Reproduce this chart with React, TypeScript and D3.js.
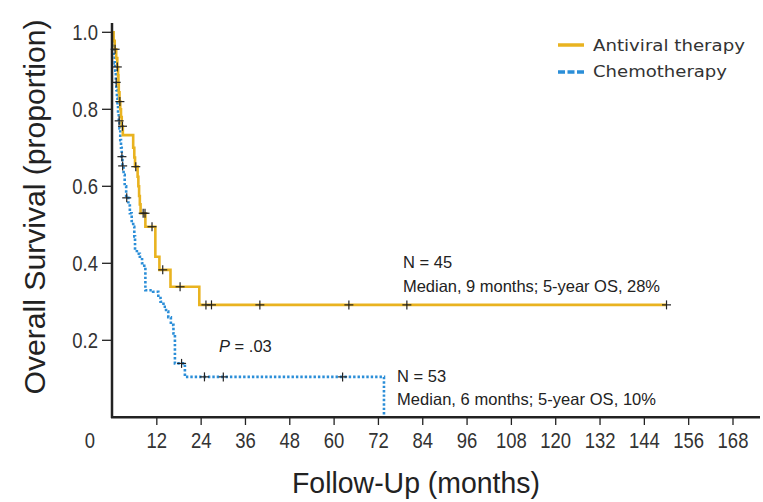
import React from "react";
import * as d3 from "d3";

// Kaplan-Meier steps: [month, survival after drop]
const antiviralSteps: [number, number][] = [
  [0, 1.0], [0.3, 0.978], [0.6, 0.956], [1.0, 0.933], [1.3, 0.91], [1.5, 0.888],
  [1.6, 0.866], [1.7, 0.844], [1.9, 0.82], [2.1, 0.8], [2.3, 0.78], [2.5, 0.756],
  [2.8, 0.733], [5.6, 0.7], [5.9, 0.675], [6.1, 0.651], [6.8, 0.625], [7.0, 0.6],
  [7.2, 0.575], [7.4, 0.553], [7.6, 0.53], [8.9, 0.495], [11.6, 0.417],
  [12.7, 0.383], [15.7, 0.339], [23.5, 0.292], [150, 0.292],
];
const antiviralCensored = [0.7, 1.3, 2.0, 2.7, 6.3, 8.3, 8.8, 10.7, 13.6, 18.3, 25.3, 26.8, 39.9, 64, 79.7, 150];

const chemoSteps: [number, number][] = [
  [0, 1.0], [0.15, 0.98], [0.3, 0.96], [0.45, 0.94], [0.6, 0.92], [0.75, 0.9],
  [0.9, 0.87], [1.05, 0.85], [1.2, 0.83], [1.35, 0.81], [1.5, 0.79], [1.7, 0.77],
  [1.9, 0.75], [2.1, 0.72], [2.3, 0.7], [2.5, 0.677], [2.7, 0.653], [3.0, 0.63],
  [3.3, 0.6], [3.7, 0.57], [4.3, 0.55], [4.7, 0.53], [5.2, 0.51], [5.6, 0.495],
  [5.9, 0.47], [6.1, 0.435], [6.6, 0.425], [7.4, 0.417], [8.0, 0.4], [8.6, 0.39],
  [8.9, 0.33], [11.0, 0.326], [12.4, 0.31], [13.0, 0.3], [13.8, 0.287],
  [14.5, 0.275], [15.1, 0.26], [15.8, 0.24], [16.5, 0.218], [16.9, 0.14],
  [19.6, 0.105], [73.5, 0],
];
const chemoCensored = [1.0, 1.8, 2.55, 2.75, 3.85, 18.7, 24.9, 30.0, 62.3];

const xTicks = [12, 24, 36, 48, 60, 72, 84, 96, 108, 120, 132, 144, 156, 168];
const yTicks = [0.2, 0.4, 0.6, 0.8, 1.0];

const YELLOW = "#e9b320";
const BLUE = "#2b8ed8";
const INK = "#222";
const SANS = "'Liberation Sans', Arial, sans-serif";

const survAt = (steps: [number, number][], t: number) => {
  let s = steps[0][1];
  for (const [m, v] of steps) {
    if (m <= t) s = v;
  }
  return s;
};

// no narrow font installed, so squeeze horizontally
const Narrow = ({ x, y, anchor, size, children }: any) => (
  <text
    transform={`translate(${x},${y}) scale(0.84,1)`}
    textAnchor={anchor}
    fontFamily={SANS}
    fontSize={size}
    fill="#333"
  >
    {children}
  </text>
);

const App = () => {
  const x = d3.scaleLinear().domain([0, 168]).range([112.5, 733]);
  const y = d3.scaleLinear().domain([0, 1]).range([417.3, 32.3]);

  const line = d3
    .line<[number, number]>()
    .x((d) => x(d[0]))
    .y((d) => y(d[1]))
    .curve(d3.curveStepAfter);

  const cross = (cx: number, cy: number, key: string) => (
    <g key={key} stroke={INK} strokeWidth={1.2}>
      <line x1={cx - 4.5} x2={cx + 4.5} y1={cy} y2={cy} />
      <line x1={cx} x2={cx} y1={cy - 4.5} y2={cy + 4.5} />
    </g>
  );

  return (
    <svg width={763} height={502} style={{ position: "absolute", left: 0, top: 0, background: "#fff" }}>
      {/* curves */}
      <path d={line(chemoSteps) || ""} fill="none" stroke={BLUE} strokeWidth={2.6} strokeDasharray="2.4,2" />
      <path d={line(antiviralSteps) || ""} fill="none" stroke={YELLOW} strokeWidth={2.6} />

      {chemoCensored.map((t, i) => cross(x(t), y(survAt(chemoSteps, t)), "c" + i))}
      {antiviralCensored.map((t, i) => cross(x(t), y(survAt(antiviralSteps, t)), "a" + i))}

      {/* axes */}
      <line x1={112} x2={112} y1={23} y2={418} stroke={INK} strokeWidth={2.5} />
      <line x1={111} x2={760} y1={417.3} y2={417.3} stroke={INK} strokeWidth={2.5} />
      {yTicks.map((t) => (
        <g key={"y" + t}>
          <line x1={102} x2={112} y1={y(t)} y2={y(t)} stroke={INK} strokeWidth={1.3} />
          <Narrow x={98} y={y(t) + 8} anchor="end" size={22}>{t.toFixed(1)}</Narrow>
        </g>
      ))}
      {xTicks.map((t) => (
        <g key={"x" + t}>
          <line x1={x(t)} x2={x(t)} y1={417} y2={425} stroke={INK} strokeWidth={1.3} />
          <Narrow x={x(t)} y={448} anchor="middle" size={22}>{t}</Narrow>
        </g>
      ))}
      <Narrow x={90} y={448} anchor="middle" size={22}>0</Narrow>

      {/* axis titles */}
      <text
        transform="translate(45,207) rotate(-90)"
        textAnchor="middle"
        fontFamily={SANS}
        fontSize={29}
        fill="#222"
        textLength={375}
        lengthAdjust="spacingAndGlyphs"
      >
        Overall Survival (proportion)
      </text>
      <text
        x={416}
        y={493}
        textAnchor="middle"
        fontFamily={SANS}
        fontSize={30}
        fill="#222"
        textLength={248}
        lengthAdjust="spacingAndGlyphs"
      >
        Follow-Up (months)
      </text>

      {/* legend */}
      <line x1={558} x2={584} y1={45} y2={45} stroke={YELLOW} strokeWidth={3.5} />
      <text x={593} y={51} fontFamily="'DejaVu Sans', sans-serif" fontSize={16} fill="#333"
        textLength={152} lengthAdjust="spacingAndGlyphs">
        Antiviral therapy
      </text>
      <line x1={558} x2={584} y1={72} y2={72} stroke={BLUE} strokeWidth={3.5} strokeDasharray="7,2.5" />
      <text x={593} y={77} fontFamily="'DejaVu Sans', sans-serif" fontSize={16} fill="#333"
        textLength={134} lengthAdjust="spacingAndGlyphs">
        Chemotherapy
      </text>

      {/* annotations */}
      <g fontFamily={SANS} fontSize={16.5} fill="#222">
        <text x={403} y={268}>N = 45</text>
        <text x={403} y={291.5} textLength={257} lengthAdjust="spacing">Median, 9 months; 5-year OS, 28%</text>
        <text x={397} y={382}>N = 53</text>
        <text x={397} y={405} textLength={259} lengthAdjust="spacing">Median, 6 months; 5-year OS, 10%</text>
        <text x={219} y={351.5}>
          <tspan fontStyle="italic">P</tspan> = .03
        </text>
      </g>
    </svg>
  );
};

export default App;
